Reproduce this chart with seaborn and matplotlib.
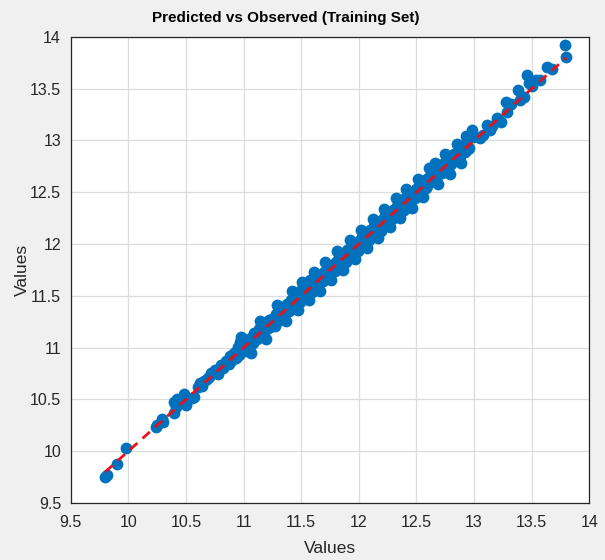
import matplotlib
matplotlib.use("Agg")
import matplotlib.pyplot as plt
import seaborn as sns
import pandas as pd

# Observed target values and the model's predictions on the training set
observed = [
    9.80, 9.81, 9.90, 9.98, 10.24, 10.25, 10.30, 10.29, 10.40, 10.40, 10.41, 10.42, 10.48, 10.49, 10.50,
    10.55, 10.57, 10.60, 10.62, 10.64, 10.66, 10.68, 10.70, 10.72, 10.75, 10.78, 10.80, 10.82, 10.85,
    10.87, 10.88, 10.90, 10.92, 10.93, 10.95, 10.96, 10.97, 10.98, 11.00, 11.00, 11.02, 11.04, 11.05,
    11.07, 11.08, 11.10, 11.12, 11.13, 11.15, 11.17, 11.18, 11.20, 11.21, 11.23, 11.25, 11.26, 11.28,
    11.30, 11.31, 11.33, 11.35, 11.36, 11.38, 11.40, 11.41, 11.43, 11.45, 11.46, 11.48, 11.50, 11.50,
    11.52, 11.53, 11.55, 11.56, 11.57, 11.58, 11.60, 11.62, 11.63, 11.65, 11.67, 11.68, 11.70, 11.72,
    11.73, 11.75, 11.77, 11.78, 11.80, 11.82, 11.83, 11.85, 11.87, 11.88, 11.90, 11.91, 11.93, 11.95,
    11.96, 11.98, 12.00, 12.01, 12.03, 12.05, 12.06, 12.08, 12.10, 12.11, 12.13, 12.15, 12.16, 12.18,
    12.20, 12.21, 12.23, 12.25, 12.26, 12.28, 12.30, 12.31, 12.33, 12.35, 12.37, 12.38, 12.40, 12.42,
    12.43, 12.45, 12.47, 12.48, 12.50, 12.52, 12.54, 12.55, 12.57, 12.59, 12.60, 12.62, 12.64, 12.65,
    12.66, 12.68, 12.70, 12.72, 12.74, 12.76, 12.78, 12.80, 12.82, 12.84, 12.86, 12.88, 12.90, 12.92,
    12.94, 12.96, 12.97, 12.98, 12.99, 13.00, 13.05, 13.08, 13.11, 13.14, 13.16, 13.20, 13.23, 13.28,
    13.29, 13.32, 13.38, 13.40, 13.43, 13.46, 13.48, 13.50, 13.54, 13.57, 13.63, 13.68, 13.79, 13.80,
    10.95, 11.03, 11.09, 11.16, 11.22, 11.27, 11.34, 11.39, 11.44, 11.49, 11.54, 11.59, 11.64, 11.69,
    11.74, 11.79, 11.84, 11.89, 11.94, 11.99, 12.04, 12.09, 12.14, 12.19, 12.24, 12.29, 12.34, 12.39,
    12.44, 12.49, 12.53, 12.58, 12.63, 12.67, 12.73, 12.77, 12.83, 12.87, 12.91, 12.95,
    10.98, 11.06, 11.14, 11.19, 11.29, 11.37, 11.42, 11.47, 11.51, 11.57, 11.61, 11.66, 11.71, 11.76,
    11.81, 11.86, 11.92, 11.97, 12.02, 12.07, 12.12, 12.17, 12.22, 12.27, 12.32, 12.36, 12.41, 12.46,
    12.51, 12.56, 12.61, 12.69, 12.75, 12.79, 12.85, 12.89, 12.93,
]
predicted = [
    9.75, 9.77, 9.88, 10.03, 10.23, 10.25, 10.28, 10.31, 10.37, 10.47, 10.43, 10.50, 10.55, 10.46, 10.45,
    10.51, 10.52, 10.62, 10.66, 10.63, 10.68, 10.70, 10.72, 10.75, 10.78, 10.74, 10.83, 10.80, 10.87,
    10.84, 10.92, 10.88, 10.95, 10.90, 11.00, 10.93, 11.05, 10.98, 11.02, 11.08, 10.97, 11.06, 11.00,
    11.10, 11.04, 11.13, 11.08, 11.18, 11.12, 11.22, 11.15, 11.25, 11.19, 11.20, 11.28, 11.23, 11.32,
    11.26, 11.35, 11.30, 11.38, 11.33, 11.42, 11.37, 11.46, 11.40, 11.48, 11.43, 11.53, 11.47, 11.56,
    11.50, 11.58, 11.52, 11.62, 11.55, 11.65, 11.58, 11.63, 11.68, 11.61, 11.70, 11.66, 11.73, 11.69,
    11.77, 11.72, 11.80, 11.76, 11.83, 11.79, 11.87, 11.82, 11.90, 11.86, 11.94, 11.88, 11.97, 11.92,
    12.00, 11.96, 12.03, 11.98, 12.07, 12.02, 12.10, 12.05, 12.14, 12.08, 12.17, 12.12, 12.21, 12.15,
    12.23, 12.18, 12.28, 12.22, 12.30, 12.25, 12.33, 12.28, 12.37, 12.32, 12.40, 12.35, 12.44, 12.39,
    12.47, 12.42, 12.50, 12.46, 12.53, 12.49, 12.57, 12.52, 12.62, 12.56, 12.64, 12.60, 12.70, 12.63,
    12.78, 12.66, 12.74, 12.69, 12.78, 12.73, 12.82, 12.77, 12.86, 12.81, 12.90, 12.85, 12.94, 12.89,
    13.03, 12.93, 13.06, 13.10, 13.03, 13.04, 13.02, 13.05, 13.15, 13.10, 13.14, 13.22, 13.18, 13.37,
    13.28, 13.35, 13.49, 13.39, 13.42, 13.63, 13.56, 13.53, 13.58, 13.58, 13.71, 13.69, 13.92, 13.81,
    11.01, 10.99, 11.14, 11.11, 11.27, 11.21, 11.39, 11.35, 11.49, 11.44, 11.60, 11.54, 11.67, 11.64,
    11.79, 11.74, 11.88, 11.83, 11.99, 11.93, 12.08, 12.04, 12.19, 12.13, 12.27, 12.24, 12.38, 12.33,
    12.48, 12.44, 12.58, 12.54, 12.67, 12.61, 12.76, 12.71, 12.87, 12.80, 12.96, 12.92,
    11.10, 10.95, 11.26, 11.08, 11.41, 11.26, 11.55, 11.36, 11.63, 11.46, 11.73, 11.55, 11.83, 11.65,
    11.93, 11.75, 12.04, 11.86, 12.14, 11.96, 12.24, 12.06, 12.34, 12.16, 12.44, 12.25, 12.53, 12.35,
    12.63, 12.45, 12.73, 12.58, 12.87, 12.68, 12.97, 12.78, 13.04,
]

# Ends of the y = x reference line
ref_line = [9.8, 13.8]

x_ticks = [9.5, 10, 10.5, 11, 11.5, 12, 12.5, 13, 13.5, 14]
y_ticks = [9.5, 10, 10.5, 11, 11.5, 12, 12.5, 13, 13.5, 14]

df = pd.DataFrame({"Observed": observed, "Predicted": predicted})

sns.set_theme(style="whitegrid")
plt.rcParams["font.family"] = ["Liberation Sans", "DejaVu Sans"]

fig = plt.figure(figsize=(6.05, 5.6), dpi=100, facecolor="#f0f0f0")
ax = fig.add_axes([0.117, 0.102, 0.857, 0.832])
ax.set_facecolor("white")

sns.scatterplot(data=df, x="Observed", y="Predicted", ax=ax, s=72,
                color="#0072BD", edgecolor="#0072BD", linewidth=0, zorder=3)
ax.plot(ref_line, ref_line, color="#e8101a", linestyle=(0, (3.5, 2.5)), linewidth=2, zorder=4)

ax.set_xlim(9.5, 14)
ax.set_ylim(9.5, 14)
ax.set_xticks(x_ticks)
ax.set_yticks(y_ticks)
ax.set_xticklabels([f"{t:g}" for t in x_ticks])
ax.set_yticklabels([f"{t:g}" for t in y_ticks])

ax.grid(True, color="#dcdcdc", linewidth=0.9)
for side in ["left", "bottom", "top", "right"]:
    ax.spines[side].set_visible(True)
    ax.spines[side].set_color("#262626")
    ax.spines[side].set_linewidth(0.9)

ax.tick_params(axis="both", direction="in", length=4, width=0.8, color="#262626",
               labelsize=11.5, labelcolor="#262626")
ax.tick_params(axis="x", pad=9)
ax.tick_params(axis="y", pad=7)

ax.set_xlabel("Values", fontsize=12.5, color="#262626", labelpad=8)
ax.set_ylabel("Values", fontsize=12.5, color="#262626", labelpad=0)
ax.set_title("Predicted vs Observed (Training Set)", fontsize=11, fontweight="bold",
             color="black", pad=11, x=0.415)

fig.savefig("out.png", dpi=100, facecolor=fig.get_facecolor())
